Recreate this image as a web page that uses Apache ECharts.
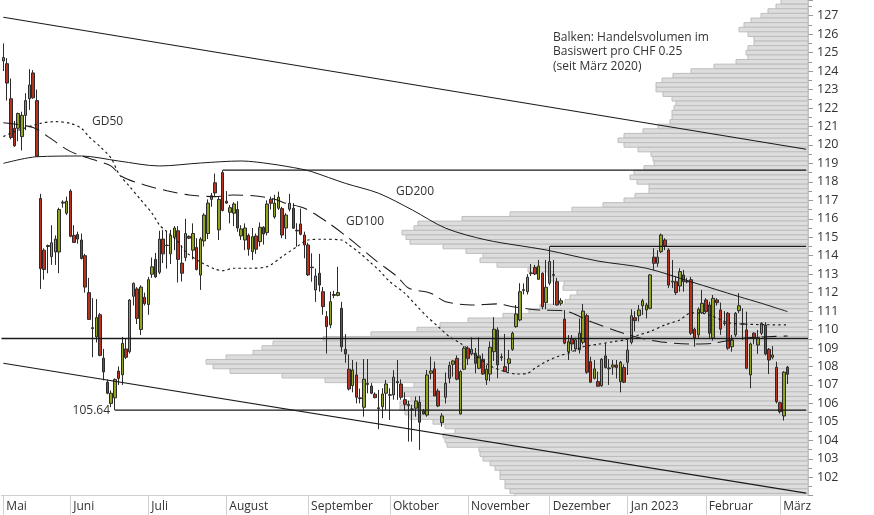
<!DOCTYPE html>
<html><head><meta charset="utf-8">
<script src="https://cdn.jsdelivr.net/npm/echarts@6/dist/echarts.min.js"></script>
<style>html,body{margin:0;padding:0;background:#fff}#c{width:874px;height:515px}</style>
</head><body><div id="c"></div>
<script>
// ---- calendar (trading days, SIX holidays excluded) ----
const holidays = ['2022-05-26','2022-06-06','2022-08-01','2022-12-26','2023-01-02'];
const firstDay = '2022-05-05';
const lastDay = '2023-03-10';
const monthKeys = ['2022-05','2022-06','2022-07','2022-08','2022-09','2022-10','2022-11','2022-12','2023-01','2023-02','2023-03'];
const monthLabels = ['Mai','Juni','Juli','August','September','Oktober','November','Dezember','Jan 2023','Februar','März'];

// ---- daily candles [open, high, low, close] ----
const ohlc = [
[124.55,125.5,124.0,124.73],[124.4,124.7,122.4,123.35],[122.5,123.6,120.3,120.4],[120.9,121.3,119.9,119.95],
[120.9,121.75,120.2,121.7],[120.45,121.8,119.7,121.6],[121.6,122.8,120.8,122.4],[122.5,124.1,121.9,123.25],
[123.9,124.05,122.5,122.55],[122.4,123.0,119.35,119.4],[117.1,117.35,112.2,113.3],[114.3,114.4,112.7,113.25],
[114.5,114.6,113.05,114.55],[113.95,115.65,113.5,114.7],[114.2,115.1,113.5,114.9],[114.2,116.6,113.05,116.5],
[116.85,117.0,116.6,116.9],[116.3,117.2,116.2,116.95],[117.5,117.6,115.0,115.05],[115.1,115.65,114.7,114.72],
[115.15,115.3,114.65,114.9],[114.85,115.2,113.8,113.85],[114.0,114.1,112.0,112.3],[112.0,112.8,110.55,110.55],
[110.1,111.7,108.5,110.05],[109.6,111.65,109.3,110.65],[110.8,110.9,108.55,108.6],[108.45,108.95,107.25,107.7],
[107.15,107.3,106.5,106.55],[106.0,106.7,105.8,106.55],[106.3,107.35,105.64,107.3],[107.75,108.0,107.0,107.35],
[107.55,109.6,107.0,109.25],[108.95,109.5,108.4,108.5],[108.8,111.65,108.7,111.6],[111.8,112.55,111.3,112.5],
[112.2,112.3,110.3,110.6],[110.0,112.4,109.7,112.3],[111.75,112.0,111.3,111.4],[111.35,112.85,110.8,112.7],
[113.0,113.9,112.8,113.4],[113.8,114.15,112.8,112.85],[113.1,115.35,113.0,114.9],[114.9,115.4,113.6,114.1],
[114.57,115.3,113.3,114.55],[114.1,115.4,113.55,115.1],[115.0,115.6,114.3,115.5],[115.35,115.6,112.55,113.8],
[113.6,114.55,112.6,113.05],[113.9,116.0,113.7,115.2],[115.05,115.1,114.9,114.95],[114.3,115.75,113.8,115.2],
[114.45,114.95,113.2,113.25],[112.95,115.0,112.15,114.9],[114.8,116.3,114.5,116.2],[115.2,117.05,114.9,116.85],
[117.05,117.4,116.65,117.25],[117.95,118.45,117.2,117.4],[115.4,117.2,114.85,117.05],[118.5,118.63,116.4,116.45],
[116.95,117.5,116.8,116.85],[116.35,116.75,115.75,116.6],[116.3,116.9,115.6,116.8],[116.5,116.95,115.3,115.5],
[115.07,115.65,114.85,115.45],[114.85,115.75,114.3,115.5],[115.1,115.2,114.0,114.35],[114.22,115.5,113.77,115.03],
[115.07,115.2,114.1,114.35],[114.76,115.8,114.5,115.54],[115.54,115.6,114.6,115.18],[115.25,117.0,115.1,116.8],
[117.06,117.2,116.5,116.84],[116.1,117.3,116.0,116.85],[116.57,117.47,116.48,117.17],[116.55,116.65,114.95,115.12],
[115.5,116.3,114.9,116.2],[116.52,117.35,116.4,116.84],[116.57,116.85,115.45,115.49],[115.38,115.76,114.49,115.34],
[115.72,116.55,115.1,115.16],[115.12,115.3,113.86,114.58],[114.58,114.7,112.9,112.96],[113.38,114.13,112.59,113.35],
[112.14,113.3,111.5,112.9],[113.05,114.1,112.05,112.41],[112.05,112.3,110.8,111.24],[110.7,111.0,108.7,110.16],
[110.25,112.05,110.07,111.51],[111.9,112.1,111.7,111.85],[111.85,113.4,111.8,112.0],[111.15,111.5,108.8,109.07],
[108.93,109.75,108.2,108.68],[107.85,108.65,106.7,106.78],[106.96,108.35,106.6,107.81],[107.54,108.25,106.0,106.33],
[106.3,106.8,106.0,106.26],[105.79,108.4,105.28,107.31],[107.08,108.4,106.55,107.03],[106.94,107.1,106.5,106.55],
[106.5,106.6,106.28,106.31],[105.76,106.73,104.6,105.72],[105.82,106.82,105.2,106.51],[106.55,107.27,105.65,107.05],
[106.47,106.82,105.1,106.44],[106.46,107.8,106.2,107.42],[107.18,108.35,106.19,107.12],[107.05,107.3,106.2,106.33],
[106.2,106.6,105.6,105.95],[105.88,106.15,103.93,105.94],[105.7,105.92,103.93,105.66],[105.74,106.37,105.28,106.13],
[106.06,106.4,103.48,104.98],[105.59,105.7,105.4,105.43],[105.37,107.81,105.28,107.54],[107.63,108.53,107.3,107.76],
[107.87,108.26,106.4,106.4],[106.67,106.8,105.8,105.86],[104.96,105.47,104.74,105.32],[106.33,107.67,106.0,107.09],
[107.36,108.26,107.09,108.05],[108.12,108.35,107.45,108.3],[108.44,108.6,107.25,107.31],[105.43,107.8,105.4,107.72],
[107.85,109.1,107.8,108.99],[108.99,109.1,108.08,108.44],[108.68,109.58,108.6,108.93],[108.72,109.0,107.63,108.17],
[107.9,109.58,107.85,108.57],[108.39,108.7,107.55,107.59],[107.27,108.08,107.0,107.85],[107.59,109.35,107.2,109.04],
[108.8,110.67,108.3,110.02],[109.98,110.12,107.36,108.08],[108.52,108.7,108.3,108.48],[107.99,109.76,107.7,107.72],
[108.17,108.9,107.72,108.41],[108.93,109.89,108.85,109.8],[110.16,111.33,110.1,110.84],[110.52,112.51,110.45,112.05],
[112.16,112.5,111.9,112.12],[112.05,113.0,111.9,112.83],[113.03,113.55,112.9,113.07],[113.37,113.5,112.95,113.01],
[112.72,113.77,112.7,113.44],[113.05,113.1,111.1,111.24],[111.46,113.77,111.1,112.29],[112.51,114.5,112.4,113.68],
[112.98,113.77,111.33,112.94],[112.59,112.8,111.3,111.33],[111.42,111.7,111.3,111.56],[110.57,111.06,109.2,109.26],
[108.8,109.7,108.35,109.34],[109.49,109.7,108.85,109.22],[108.95,109.55,108.8,109.44],[108.9,110.6,108.7,109.8],
[109.31,111.38,109.2,111.0],[110.75,110.85,107.6,107.69],[108.26,108.53,107.1,107.15],[107.36,108.35,107.3,107.87],
[107.18,107.72,106.9,106.93],[106.96,108.45,106.9,108.39],[108.57,109.26,107.9,107.94],[107.92,108.4,107.0,107.88],
[107.97,108.35,107.55,108.08],[108.08,108.35,107.35,107.94],[107.18,108.3,106.6,108.23],[107.94,108.1,107.1,107.15],
[108.23,109.44,107.54,108.89],[109.31,111.1,109.2,110.75],[110.64,111.0,109.9,110.48],[110.75,111.33,110.43,111.06],
[111.29,111.66,110.79,111.56],[111.06,111.45,110.6,111.33],[111.15,113.0,111.1,112.96],[113.92,114.4,113.23,113.59],
[113.59,114.3,113.4,113.92],[114.22,115.2,114.15,115.12],[114.85,114.95,114.3,114.54],[114.31,114.4,112.24,112.41],
[112.61,113.77,112.24,112.57],[112.59,112.86,111.87,112.0],[112.36,113.32,112.05,113.14],[112.96,113.23,112.05,112.59],
[112.62,112.8,112.5,112.58],[112.7,112.85,109.7,109.8],[110.02,110.1,109.07,109.53],[109.71,111.2,109.5,111.1],
[110.91,112.14,110.85,111.42],[111.6,111.7,110.9,110.97],[111.33,111.51,109.53,109.8],[109.53,111.87,109.4,111.69],
[111.6,111.7,111.3,111.46],[111.06,111.46,109.71,110.02],[110.36,111.0,110.2,110.32],[110.88,110.95,108.9,108.99],
[109.07,109.71,108.8,109.44],[109.71,110.95,109.6,110.88],[111.02,111.97,110.9,111.29],[110.32,111.15,109.44,110.28],
[109.98,110.97,107.85,107.9],[107.54,109.3,106.82,109.22],[109.8,109.85,109.2,109.53],[109.16,109.98,108.68,109.58],
[109.8,110.4,109.7,110.34],[110.25,110.4,108.6,108.68],[108.93,109.0,107.59,108.35],[108.5,109.1,108.4,108.62],
[107.96,108.26,106.0,106.09],[106.04,106.1,105.45,105.55],[105.32,107.75,105.07,107.69],[107.96,108.03,107.05,107.58]
];

// ---- moving averages [trading-day index, value] ----
const gd50 = [[0,120.45],[3,120.72],[10,121.17],[14,121.26],[18,121.17],[21,120.9],[23,120.45],[26,119.91],[29,119.28],
[31,118.46],[34,117.74],[37,117.02],[40,116.3],[42,115.66],[44,115.3],[47,114.76],[49,114.22],[53,113.66],[57,113.27],
[59,113.19],[62,113.32],[66,113.32],[71,113.41],[75,113.95],[79,114.49],[82,114.85],[86,114.89],[91,114.85],[93,114.58],
[96,114.13],[99,113.59],[101,113.23],[104,112.59],[108,111.97],[111,111.33],[114,110.7],[117,110.16],[120,109.61],
[123,109.26],[127,108.62],[131,108.03],[135,107.72],[138,107.59],[141,107.63],[143,107.9],[146,108.26],[149,108.53],
[153,108.8],[156,109.07],[160,109.2],[164,109.34],[167,109.44],[171,109.71],[174,109.89],[178,110.25],[182,110.52],
[185,110.9],[189,110.85],[196,110.34],[211,110.25]];
const gd100 = [[0,121.2],[8,120.95],[12,120.45],[18,119.65],[25,119.15],[29,118.85],[32,118.28],[38,117.83],[44,117.52],
[50,117.29],[57,117.2],[62,117.29],[68,117.23],[73,117.06],[76,116.84],[81,116.57],[87,115.84],[93,114.94],[100,113.77],
[106,112.86],[109,112.25],[115,111.97],[119,111.51],[126,111.33],[133,111.39],[137,111.24],[144,111.06],[151,111.01],
[158,110.43],[165,109.92],[171,109.56],[177,109.33],[185,109.22],[191,109.26],[199,109.53],[211,109.65]];
const gd200 = [[0,119.0],[9,119.36],[21,119.4],[31,119.13],[42,118.86],[53,119.02],[64,119.13],[72,118.97],[80,118.7],
[83,118.55],[92,117.92],[101,117.38],[110,116.48],[119,115.49],[130,114.85],[146,114.31],[160,113.71],[173,113.32],
[185,112.59],[198,111.78],[204,111.42],[211,110.97]];

// ---- trend lines and horizontal levels ----
const trendUpper = [[0,126.92],[216,119.77]];
const trendLower = [[0,108.17],[216,101.14]];
const levelHigh = [[59,118.63],[216,118.63]];
const levelDec = [[147,114.5],[216,114.5]];
const levelLow = [[30,105.64],[216,105.64]];
const levelMid = 109.53;

// ---- volume profile (per CHF 0.25, relative volume) ----
const priceLevels = [127.75,127.5,127.25,127,126.75,126.5,126.25,126,125.75,125.5,125.25,125,124.75,124.5,124.25,124,
123.75,123.5,123.25,123,122.75,122.5,122.25,122,121.75,121.5,121.25,121,120.75,120.5,120.25,120,119.75,119.5,119.25,119,
118.75,118.5,118.25,118,117.75,117.5,117.25,117,116.75,116.5,116.25,116,115.75,115.5,115.25,115,114.75,114.5,114.25,114,
113.75,113.5,113.25,113,112.75,112.5,112.25,112,111.75,111.5,111.25,111,110.75,110.5,110.25,110,109.75,109.5,109.25,109,
108.75,108.5,108.25,108,107.75,107.5,107.25,107,106.75,106.5,106.25,106,105.75,105.5,105.25,105,104.75,104.5,104.25,104,
103.75,103.5,103.25,103,102.75,102.5,102.25,102,101.75,101.5,101.25,101];
const volumes = [27,32,40,47,57,64,69,60,54,54,60,62,60,72,94,117,
135,146,152,152,145,136,132,134,136,136,138,150,165,184,190,184,170,157,155,154,
164,174,178,171,159,159,173,184,205,236,298,346,390,394,406,402,398,365,342,325,
328,311,280,260,258,244,245,231,238,243,268,279,305,340,368,391,437,485,535,546,
555,582,602,595,578,526,483,394,408,408,397,408,408,403,398,375,363,353,365,363,
361,329,328,325,318,313,308,308,303,303,298,293];

// ---- build ----
function tradingDays() {
  const out = [];
  const d = new Date(firstDay + 'T00:00:00Z');
  const end = new Date(lastDay + 'T00:00:00Z');
  while (d <= end) {
    const s = d.toISOString().slice(0, 10);
    const wd = d.getUTCDay();
    if (wd !== 0 && wd !== 6 && holidays.indexOf(s) < 0) out.push(s);
    d.setUTCDate(d.getUTCDate() + 1);
  }
  return out;
}
const dates = tradingDays();
const isMonthStart = (idx) => idx === 0 || dates[idx].slice(0, 7) !== dates[idx - 1].slice(0, 7);
const monthName = (val) => monthLabels[monthKeys.indexOf(val.slice(0, 7))] || '';

const FONT = '"Open Sans", "Noto Sans", sans-serif';
const LINE = '#1a1a1a';
const chart = echarts.init(document.getElementById('c'), null, {renderer: 'canvas'});

const lineSeries = (data, style, z, smooth) => ({
  type: 'line', data: data, symbol: 'none', silent: true, z: z || 5, smooth: smooth || false,
  lineStyle: Object.assign({color: LINE, width: 1}, style), animation: false
});

const levelLowSeries = lineSeries(levelLow, {width: 1.3}, 6);
levelLowSeries.markLine = {silent: true, symbol: 'none', label: {show: false}, animation: false,
  lineStyle: {color: LINE, width: 1.3, type: 'solid'}, data: [{yAxis: levelMid}]};

chart.setOption({
  animation: false,
  grid: {left: 1.5, right: 66, top: 0, bottom: 19.3},
  xAxis: [{
    type: 'category', data: dates, boundaryGap: true,
    axisLine: {show: true, lineStyle: {color: '#cfcfcf'}},
    axisTick: {show: true, alignWithLabel: true, length: 19, interval: (i) => isMonthStart(i), lineStyle: {color: '#cfcfcf'}},
    axisLabel: {interval: (i) => isMonthStart(i), formatter: (v) => monthName(v), align: 'left',
      padding: [0, 0, 0, 3], margin: 5, fontSize: 12, color: '#333', fontFamily: FONT},
    splitLine: {show: false}
  }, {
    type: 'value', inverse: true, min: 0, max: 806.5, show: false, position: 'top'
  }],
  yAxis: {
    type: 'value', position: 'right', min: 101, max: 127.85, interval: 1,
    axisLine: {show: true, lineStyle: {color: '#c8c8c8'}},
    axisTick: {show: true, length: 5, lineStyle: {color: '#999'}},
    minorTick: {show: true, splitNumber: 2, length: 4, lineStyle: {color: '#999'}},
    splitLine: {show: false},
    axisLabel: {margin: 9, fontSize: 12.5, color: '#333', fontFamily: FONT, showMaxLabel: false,
      formatter: (v) => (Number.isInteger(v) && v >= 102 && v <= 127) ? String(v) : ''}
  },
  series: [
    {
      type: 'custom', xAxisIndex: 1, yAxisIndex: 0, z: 1, silent: true, clip: true,
      data: priceLevels.map((p, k) => [volumes[k], p]),
      encode: {x: 0, y: 1},
      renderItem: (params, api) => {
        const v = api.value(0), p = api.value(1);
        const tl = api.coord([v, p + 0.125]);
        const br = api.coord([0, p - 0.125]);
        return {type: 'rect', shape: {x: tl[0], y: tl[1], width: br[0] - tl[0], height: br[1] - tl[1]},
          style: {fill: '#dddddd', stroke: '#bdbdbd', lineWidth: 1}};
      }
    },
    {
      type: 'candlestick', z: 3, silent: true, barWidth: 3,
      data: ohlc.map(r => [r[0], r[3], r[2], r[1]]),
      itemStyle: {color: '#93a31d', color0: '#b7321f', borderColor: '#2b2b2b', borderColor0: '#2b2b2b', borderWidth: 1}
    },
    lineSeries(gd200, {width: 1}, 5, 0.3),
    lineSeries(gd100, {type: [15, 7], width: 1.05}, 5, 0.3),
    lineSeries(gd50, {type: [2.5, 3], width: 1.15}, 5, 0.3),
    lineSeries(trendUpper, {width: 1.1}, 6),
    lineSeries(trendLower, {width: 1.1}, 6),
    lineSeries(levelHigh, {width: 1.3}, 6),
    lineSeries(levelDec, {width: 1.3}, 6),
    levelLowSeries
  ],
  graphic: [
    {type: 'text', x: 92, y: 122, z: 10, style: {text: 'GD50', fill: '#333', font: '12px ' + FONT, verticalAlign: 'middle'}},
    {type: 'text', x: 396, y: 192, z: 10, style: {text: 'GD200', fill: '#333', font: '12px ' + FONT, verticalAlign: 'middle'}},
    {type: 'text', x: 346, y: 222, z: 10, style: {text: 'GD100', fill: '#333', font: '12px ' + FONT, verticalAlign: 'middle'}},
    {type: 'text', x: 110, y: 411, z: 10, style: {text: '105.64', fill: '#333', font: '12px ' + FONT, align: 'right', verticalAlign: 'middle'}},
    {type: 'text', x: 553, y: 30, z: 10, style: {text: 'Balken: Handelsvolumen im\nBasiswert pro CHF 0.25\n(seit März 2020)',
      fill: '#333', font: '12px ' + FONT, lineHeight: 14.5, verticalAlign: 'top'}}
  ]
});
</script>
</body></html>
